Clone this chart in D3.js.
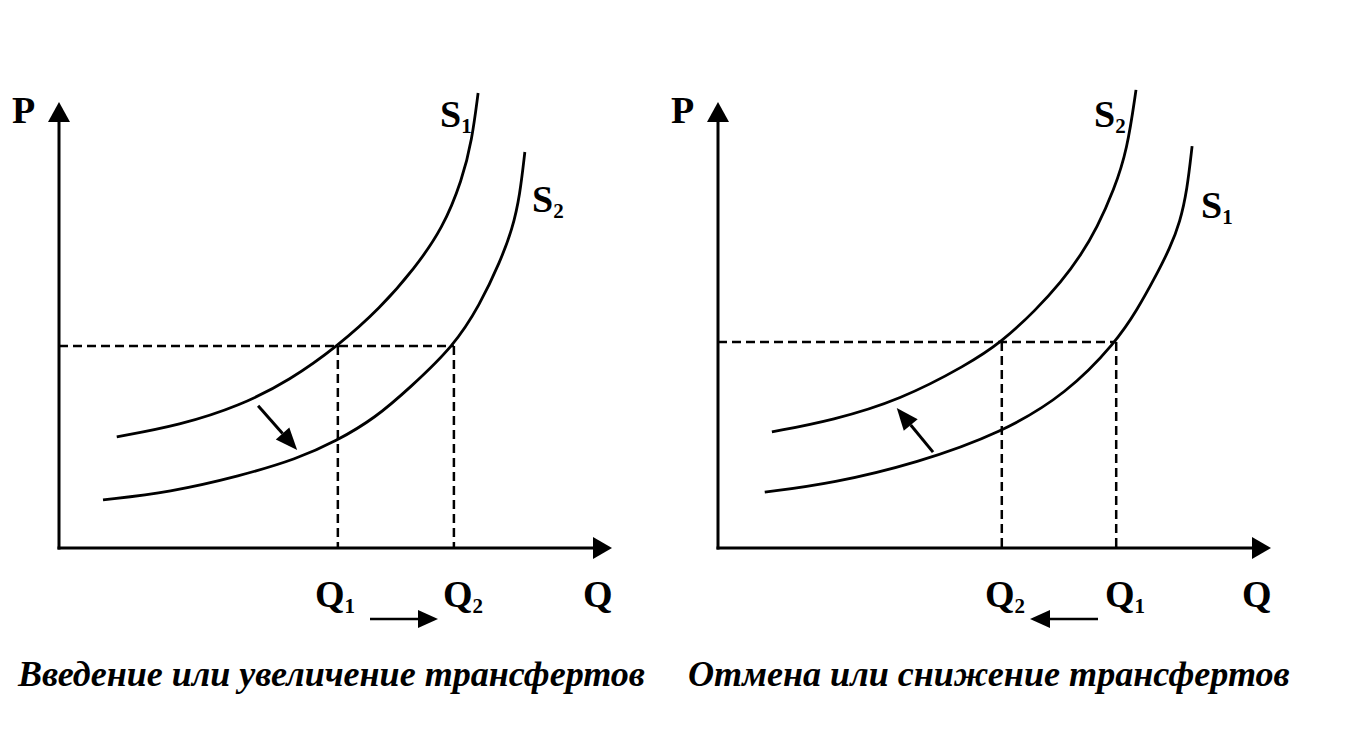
<!DOCTYPE html>
<html><head><meta charset="utf-8">
<script src="https://cdn.jsdelivr.net/npm/d3@7"></script>
<style>body{margin:0;background:#fff}</style></head>
<body><svg id="c" width="1364" height="740"></svg>
<script>
// ---------- data (Q, P in abstract units 0..100) ----------
const leftS1Q  = [10.5, 22, 32.9, 42, 50.7, 58.4, 64.7, 69.8, 73.3, 75.1, 76.2];
const leftS1P  = [24.7, 27.3, 31.6, 37.3, 44.9, 53.3, 62.2, 71.1, 81.8, 90.7, 101.1];
const leftS2Q  = [8, 20.2, 32.9, 43.3, 50.5, 57.5, 63.8, 71.8, 76.5, 80.2, 82.5, 83.8, 84.7];
const leftS2P  = [10.7, 12.4, 16, 19.8, 23.8, 28.9, 35.6, 44.9, 54, 63.6, 71.1, 78.4, 88];
const rightS2Q = [9.8, 20.9, 33.1, 45.3, 51.6, 57.8, 62.4, 66, 68.9, 72, 74.4, 76];
const rightS2P = [25.8, 28.4, 32.9, 40.7, 45.8, 52.9, 59.1, 65.1, 71.1, 79.6, 88.4, 101.8];
const rightS1Q = [8.5, 20.9, 36.2, 51.6, 63.5, 72.4, 76.2, 79.5, 82.2, 84, 85.3, 86.2];
const rightS1P = [12.4, 14.4, 18.9, 25.6, 34.4, 45.8, 52.9, 60.2, 66.7, 72.4, 79.6, 89.3];
const equilibriumP = [44.9, 45.8];            // left, right
const leftQs  = [50.7, 71.8];                 // Q1, Q2 (left)
const rightQs = [51.6, 72.4];                 // Q2, Q1 (right)
const leftShift  = [[36.2, 31.6], [43.3, 21.8]];
const rightShift = [[39.1, 21.3], [32.5, 31.1]];
const captions = ["Введение или увеличение трансфертов", "Отмена или снижение трансфертов"];

// ---------- drawing ----------
const svg = d3.select("#c");
const zip = (a, b) => a.map((v, i) => [v, b[i]]);
const FONT = "'Liberation Serif','Times New Roman',serif";

function arrowHead(g, tip, from, len, wid) {
  const dx = tip[0] - from[0], dy = tip[1] - from[1], L = Math.hypot(dx, dy);
  const ux = dx / L, uy = dy / L, px = -uy, py = ux;
  const bx = tip[0] - ux * len, by = tip[1] - uy * len;
  g.append("path").attr("d",
    `M${tip[0]},${tip[1]}L${bx + px * wid / 2},${by + py * wid / 2}L${bx - px * wid / 2},${by - py * wid / 2}Z`)
    .attr("fill", "#000");
  return [bx, by];
}

function panel(cfg) {
  const g = svg.append("g");
  const x = d3.scaleLinear().domain([0, 100]).range([cfg.x0, cfg.x0 + 550]);
  const y = d3.scaleLinear().domain([0, 100]).range([548, 98]);
  const line = d3.line().x(d => x(d[0])).y(d => y(d[1])).curve(d3.curveBasis);

  // axes
  g.append("line").attr("x1", x(0)).attr("y1", y(0) + 1.5).attr("x2", x(0)).attr("y2", 120)
    .attr("stroke", "#000").attr("stroke-width", 3);
  arrowHead(g, [x(0), 102], [x(0), 200], 20, 22);
  g.append("line").attr("x1", x(0) - 1.5).attr("y1", y(0)).attr("x2", cfg.x0 + 535).attr("y2", y(0))
    .attr("stroke", "#000").attr("stroke-width", 3);
  arrowHead(g, [cfg.x0 + 553, y(0)], [cfg.x0, y(0)], 19, 22);

  // dashed guides
  const dash = "9,5";
  g.append("line").attr("x1", x(0)).attr("x2", x(cfg.qs[1])).attr("y1", y(cfg.p)).attr("y2", y(cfg.p))
    .attr("stroke", "#000").attr("stroke-width", 2.5).attr("stroke-dasharray", dash);
  cfg.qs.forEach(q => {
    g.append("line").attr("x1", x(q)).attr("x2", x(q)).attr("y1", y(cfg.p)).attr("y2", y(0))
      .attr("stroke", "#000").attr("stroke-width", 2.5).attr("stroke-dasharray", dash);
  });

  // curves
  cfg.curves.forEach(c => {
    g.append("path").attr("d", line(c)).attr("fill", "none").attr("stroke", "#000").attr("stroke-width", 2.8);
  });

  // shift arrow
  const a0 = [x(cfg.shift[0][0]), y(cfg.shift[0][1])], a1 = [x(cfg.shift[1][0]), y(cfg.shift[1][1])];
  const base = arrowHead(g, a1, a0, 22, 18);
  g.append("line").attr("x1", a0[0]).attr("y1", a0[1]).attr("x2", base[0]).attr("y2", base[1])
    .attr("stroke", "#000").attr("stroke-width", 3);

  // bottom arrow
  const b0 = [cfg.bArrow[0], 619], b1 = [cfg.bArrow[1], 619];
  const bb = arrowHead(g, b1, b0, 20, 18);
  g.append("line").attr("x1", b0[0]).attr("y1", 619).attr("x2", bb[0]).attr("y2", 619)
    .attr("stroke", "#000").attr("stroke-width", 2.5);

  // labels
  const lab = (tx, ty, main, sub) => {
    const t = g.append("text").attr("x", tx).attr("y", ty).attr("font-family", FONT)
      .attr("font-weight", "bold").attr("font-size", 38).text(main);
    if (sub) t.append("tspan").attr("font-size", 21).attr("dy", 6).text(sub);
  };
  lab(cfg.x0 - 47, 123, "P");
  lab(cfg.x0 + 524, 607, "Q");
  cfg.labels.forEach(l => lab(l[0], l[1], l[2], l[3]));

  const cap = g.append("text").attr("x", cfg.cap[0]).attr("y", 686).attr("font-family", FONT)
    .attr("font-weight", "bold").attr("font-style", "italic").attr("font-size", 42)
    .text(cfg.caption);
  const w = cap.node().getComputedTextLength();
  cap.attr("font-size", Math.min(46, 42 * cfg.cap[1] / w));
}

panel({
  x0: 59, p: equilibriumP[0], qs: leftQs,
  curves: [zip(leftS1Q, leftS1P), zip(leftS2Q, leftS2P)],
  shift: leftShift, bArrow: [370, 438],
  labels: [[440, 127, "S", "1"], [532, 212, "S", "2"], [315, 607, "Q", "1"], [443, 607, "Q", "2"]],
  caption: captions[0], cap: [18, 627]
});
panel({
  x0: 718, p: equilibriumP[1], qs: rightQs,
  curves: [zip(rightS2Q, rightS2P), zip(rightS1Q, rightS1P)],
  shift: rightShift, bArrow: [1098, 1030],
  labels: [[1094, 127, "S", "2"], [1201, 218, "S", "1"], [985, 607, "Q", "2"], [1105, 607, "Q", "1"]],
  caption: captions[1], cap: [688, 602]
});
</script></body></html>
